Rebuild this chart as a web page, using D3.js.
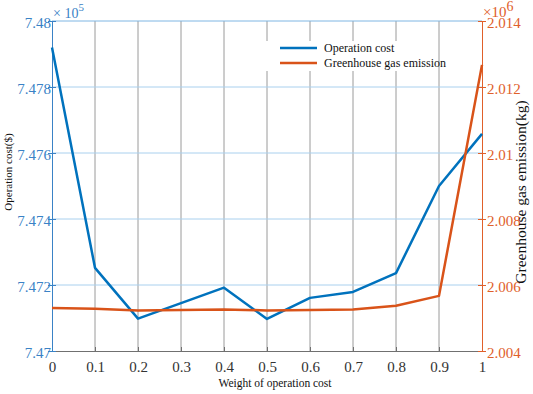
<!DOCTYPE html>
<html><head><meta charset="utf-8">
<script src="https://cdn.jsdelivr.net/npm/d3@7"></script>
<style>body{margin:0;background:#fff}svg{display:block}svg text{font-family:"Liberation Serif","Times New Roman",serif !important}</style>
</head><body><svg id="c" width="533" height="394"></svg>
<script>
const weights = [0,0.1,0.2,0.3,0.4,0.5,0.6,0.7,0.8,0.9,1];
const operationCost = [7.4792,7.47252,7.47098,7.47145,7.47192,7.47097,7.47161,7.47179,7.47236,7.47500,7.47658];
const ghgEmission = [2.00530,2.00528,2.00523,2.00524,2.00526,2.00523,2.00524,2.00526,2.00537,2.00567,2.01267];
const xTicks = [0,0.1,0.2,0.3,0.4,0.5,0.6,0.7,0.8,0.9,1];
const leftTicks = [7.47,7.472,7.474,7.476,7.478,7.48];
const rightTicks = [2.004,2.006,2.008,2.01,2.012,2.014];
const seriesNames = ["Operation cost","Greenhouse gas emission"];

const BLUE="#0072BD", ORANGE="#D95319", BLUET="#3a82c6", ORANGET="#e0602a";
const svg=d3.select("#c");
const L=52,R=482,T=21,B=351;
const x=d3.scaleLinear().domain([0,1]).range([L,R]);
const yL=d3.scaleLinear().domain([7.47,7.48]).range([B,T]);
const yR=d3.scaleLinear().domain([2.004,2.014]).range([B,T]);

// grid
svg.append("g").selectAll("line").data(xTicks.slice(1,-1)).join("line")
 .attr("x1",d=>x(d)).attr("x2",d=>x(d)).attr("y1",T).attr("y2",B)
 .attr("stroke","#9a9a9a").attr("stroke-width",1);
svg.append("g").selectAll("line").data(leftTicks.slice(1,-1)).join("line")
 .attr("x1",L).attr("x2",R).attr("y1",d=>yL(d)).attr("y2",d=>yL(d))
 .attr("stroke","#a9d0ee").attr("stroke-width",1);
svg.append("line").attr("x1",L).attr("x2",R).attr("y1",T).attr("y2",T).attr("stroke","#7fb6e3");

const fmt=d=>String(d);
const gB=svg.append("g").attr("transform",`translate(0,${B})`).call(d3.axisBottom(x).tickValues(xTicks).tickFormat(fmt).tickSizeInner(-4).tickSizeOuter(0).tickPadding(10));
gB.attr("font-family",null);
gB.select(".domain").attr("stroke","#707070");
gB.selectAll(".tick line").attr("stroke","#707070");
gB.selectAll("text").attr("fill","#333").style("font-size","15px");

const gL=svg.append("g").attr("transform",`translate(${L},0)`).call(d3.axisLeft(yL).tickValues(leftTicks).tickFormat(fmt).tickSizeInner(4).tickSizeOuter(0).tickPadding(0));
gL.attr("font-family",null);
gL.select(".domain").attr("stroke",BLUET);
gL.selectAll(".tick line").attr("stroke",BLUET).attr("x2",4).attr("x1",-4);
gL.selectAll("text").attr("fill",BLUET).style("font-size","15px").attr("x",-1).attr("dy","0.4em");

const gR=svg.append("g").attr("transform",`translate(${R},0)`).call(d3.axisRight(yR).tickValues(rightTicks).tickFormat(fmt).tickSizeInner(4).tickSizeOuter(0).tickPadding(1));
gR.attr("font-family",null);
gR.select(".domain").attr("stroke",ORANGET);
gR.selectAll(".tick line").attr("stroke",ORANGET).attr("x2",4).attr("x1",-4);
gR.selectAll("text").attr("fill",ORANGET).style("font-size","15px").attr("x",5).attr("dy","0.45em");

const m1=svg.append("text").attr("x",53).attr("y",18).attr("fill",BLUET).style("font-size","14px");
m1.append("tspan").text("× 10");
m1.append("tspan").attr("dy",-7).style("font-size","11px").text("5");
const m2=svg.append("text").attr("x",483).attr("y",17).attr("fill",ORANGET).style("font-size","15px");
m2.append("tspan").text("×10");
m2.append("tspan").attr("dy",-6).style("font-size","14px").text("6");

svg.append("rect").attr("x",262).attr("y",41).attr("width",175).attr("height",30).attr("fill","#fff");

const lineL=d3.line().x((d,i)=>x(weights[i])).y(d=>yL(d));
const lineR=d3.line().x((d,i)=>x(weights[i])).y(d=>yR(d));
svg.append("path").datum(operationCost).attr("d",lineL).attr("fill","none").attr("stroke",BLUE).attr("stroke-width",2.5).attr("stroke-linejoin","round");
svg.append("path").datum(ghgEmission).attr("d",lineR).attr("fill","none").attr("stroke",ORANGE).attr("stroke-width",2.5).attr("stroke-linejoin","round");

const lg=svg.append("g");
[BLUE,ORANGE].forEach((c,i)=>{
  lg.append("line").attr("x1",280).attr("x2",317).attr("y1",48+i*15).attr("y2",48+i*15).attr("stroke",c).attr("stroke-width",2.5);
  lg.append("text").attr("x",324).attr("y",52+i*15).attr("fill","#111").style("font-size","12px").text(seriesNames[i]);
});

svg.append("text").attr("x",275).attr("y",387).attr("text-anchor","middle").attr("fill","#111").style("font-size","11.5px").text("Weight of operation cost");
svg.append("text").attr("transform","translate(12,172) rotate(-90)").attr("text-anchor","middle").attr("fill","#111").style("font-size","11px").text("Operation cost($)");
svg.append("text").attr("transform","translate(526,192) rotate(-90)").attr("text-anchor","middle").attr("fill","#111").style("font-size","15.5px").text("Greenhouse gas emission(kg)");
</script></body></html>
